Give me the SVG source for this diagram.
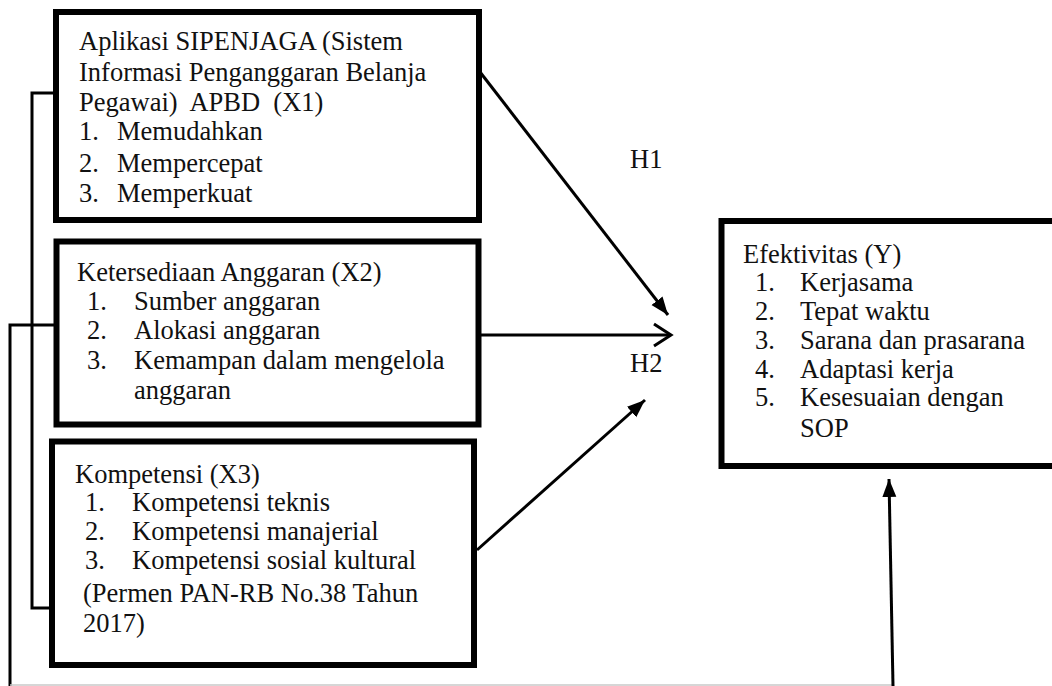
<svg xmlns="http://www.w3.org/2000/svg" width="1052" height="686" viewBox="0 0 1052 686">
<defs>
<marker id="filled" markerUnits="userSpaceOnUse" markerWidth="20" markerHeight="16" viewBox="0 0 20 16" refX="18" refY="8" orient="auto">
<path d="M0,1 L18,8 L0,15 Z" fill="#000"/>
</marker>
<marker id="open" markerUnits="userSpaceOnUse" markerWidth="22" markerHeight="26" viewBox="0 0 22 26" refX="19" refY="13" orient="auto">
<path d="M2,2 L19,13 L2,24" fill="none" stroke="#000" stroke-width="3"/>
</marker>
</defs>
<style>
.box{fill:#fff;stroke:#000;stroke-width:6}
.c{fill:none;stroke:#000;stroke-width:3}
text{font-size:26.5px;fill:#111}
</style>
<rect width="1052" height="686" fill="#fff"/>
<g font-family="Liberation Serif, serif">
<g id="connectors">
<polyline class="c" points="55,93 32,93 32,608 55,608"/>
<polyline class="c" points="62,325 10,325 10,686"/>
<line x1="10" y1="685" x2="893" y2="685" stroke="#c8c8c8" stroke-width="1.5"/>
<line class="c" x1="480" y1="72" x2="668" y2="315" marker-end="url(#filled)"/>
<line class="c" x1="478" y1="335" x2="671" y2="335" marker-end="url(#open)"/>
<line class="c" x1="477" y1="550" x2="645" y2="400" marker-end="url(#filled)"/>
<line class="c" x1="893" y1="686" x2="889" y2="479" marker-end="url(#filled)"/>
<text x="630" y="168">H1</text>
<text x="630" y="372">H2</text>
</g>
<g id="x1">
<rect class="box" x="56" y="12" width="423" height="208"/>
<text x="79" y="50">Aplikasi SIPENJAGA (Sistem</text>
<text x="79" y="81">Informasi Penganggaran Belanja</text>
<text x="79" y="111" xml:space="preserve">Pegawai)  APBD  (X1)</text>
<text x="79" y="140">1.</text><text x="117" y="140">Memudahkan</text>
<text x="79" y="172">2.</text><text x="117" y="172">Mempercepat</text>
<text x="79" y="202">3.</text><text x="117" y="202">Memperkuat</text>
</g>
<g id="x2">
<rect class="box" x="56.5" y="241.5" width="422" height="183"/>
<text x="77" y="281">Ketersediaan Anggaran (X2)</text>
<text x="87" y="310">1.</text><text x="134" y="310">Sumber anggaran</text>
<text x="87" y="339">2.</text><text x="134" y="339">Alokasi anggaran</text>
<text x="87" y="369">3.</text><text x="134" y="369">Kemampan dalam mengelola</text>
<text x="134" y="399">anggaran</text>
</g>
<g id="x3">
<rect class="box" x="52" y="441.5" width="422" height="223.5"/>
<text x="75" y="483">Kompetensi (X3)</text>
<text x="85" y="511">1.</text><text x="132" y="511">Kompetensi teknis</text>
<text x="85" y="540">2.</text><text x="132" y="540">Kompetensi manajerial</text>
<text x="85" y="569">3.</text><text x="132" y="569">Kompetensi sosial kultural</text>
<text x="83" y="602">(Permen PAN-RB No.38 Tahun</text>
<text x="83" y="632">2017)</text>
</g>
<g id="y">
<rect class="box" x="721.5" y="221" width="400" height="245"/>
<text x="743" y="263">Efektivitas (Y)</text>
<text x="755" y="291">1.</text><text x="800" y="291">Kerjasama</text>
<text x="755" y="320">2.</text><text x="800" y="320">Tepat waktu</text>
<text x="755" y="349">3.</text><text x="800" y="349">Sarana dan prasarana</text>
<text x="755" y="378">4.</text><text x="800" y="378">Adaptasi kerja</text>
<text x="755" y="406">5.</text><text x="800" y="406">Kesesuaian dengan</text>
<text x="800" y="437">SOP</text>
</g>
</g>
</svg>
